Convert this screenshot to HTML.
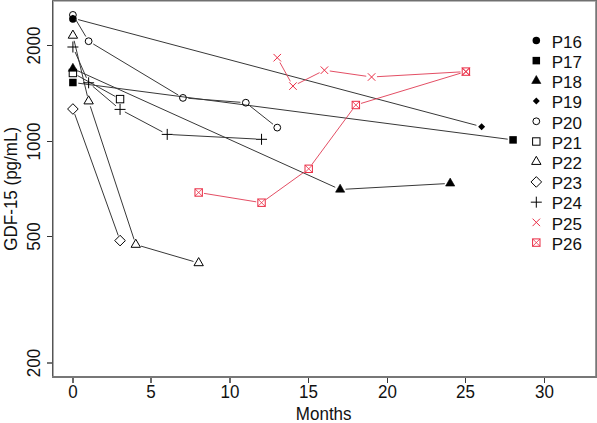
<!DOCTYPE html>
<html><head><meta charset="utf-8"><style>
html,body{margin:0;padding:0;background:#fff;}
body{width:597px;height:423px;position:relative;overflow:hidden;font-family:"Liberation Sans",sans-serif;color:#111;}
svg{position:absolute;left:0;top:0;font-family:"Liberation Sans",sans-serif;}
</style></head><body>
<svg width="597" height="423" viewBox="0 0 597 423">
<rect x="52" y="0" width="1" height="378" fill="#555"/>
<rect x="53" y="1" width="1" height="376" fill="#aaa"/>
<rect x="595" y="1" width="1" height="376" fill="#999"/>
<rect x="596" y="0" width="1" height="378" fill="#777"/>
<rect x="52" y="0" width="545" height="1" fill="#707070"/>
<rect x="54" y="1" width="541" height="1" fill="#b8b8b8"/>
<rect x="52" y="376" width="545" height="2" fill="#777"/>
<rect x="72" y="378" width="2" height="5" fill="#6a6a6a"/>
<rect x="150" y="378" width="2" height="5" fill="#6a6a6a"/>
<rect x="229" y="378" width="2" height="5" fill="#6a6a6a"/>
<rect x="308" y="378" width="1" height="5" fill="#383838"/>
<rect x="387" y="378" width="1" height="5" fill="#383838"/>
<rect x="465" y="378" width="1" height="5" fill="#383838"/>
<rect x="544" y="378" width="1" height="5" fill="#383838"/>
<rect x="47" y="45" width="5" height="1" fill="#333"/>
<rect x="47" y="141" width="5" height="1" fill="#333"/>
<rect x="47" y="236" width="5" height="1" fill="#333"/>
<rect x="47" y="362" width="5" height="2" fill="#777"/>
<circle cx="72.9" cy="19" r="3.75" fill="#000"/>
<path d="M78.25 83.2L507.71 139.2" stroke="#383838" stroke-width="1.0" fill="none"/>
<rect x="69.15" y="78.75" width="7.5" height="7.5" fill="#000"/>
<rect x="509.31" y="136.15" width="7.5" height="7.5" fill="#000"/>
<path d="M77.82 70.83L335.22 187.27M345.53 189.2L444.79 183.7" stroke="#383838" stroke-width="1.0" fill="none"/>
<polygon points="72.9,63.3 77.49,71.25 68.31,71.25" fill="#000" stroke="#000" stroke-width="0.6" stroke-linejoin="miter"/>
<polygon points="340.14,184.2 344.73,192.15 335.55,192.15" fill="#000" stroke="#000" stroke-width="0.6" stroke-linejoin="miter"/>
<polygon points="450.18,178.1 454.77,186.05 445.59,186.05" fill="#000" stroke="#000" stroke-width="0.6" stroke-linejoin="miter"/>
<path d="M78.12 19.59L476.4 125.31" stroke="#383838" stroke-width="1.0" fill="none"/>
<polygon points="72.9,14.7 76.4,18.2 72.9,21.7 69.4,18.2" fill="#000"/>
<polygon points="481.62,123.2 485.12,126.7 481.62,130.2 478.12,126.7" fill="#000"/>
<path d="M75.67 19.54L85.85 36.56M93.25 43.98L178.31 95.12M188.32 98.31L240.44 102.29M250.05 106.05L273.03 124.25" stroke="#383838" stroke-width="1.0" fill="none"/>
<circle cx="72.9" cy="14.9" r="3.4" fill="none" stroke="#000" stroke-width="1.0"/>
<circle cx="88.62" cy="41.2" r="3.4" fill="none" stroke="#000" stroke-width="1.0"/>
<circle cx="182.94" cy="97.9" r="3.4" fill="none" stroke="#000" stroke-width="1.0"/>
<circle cx="245.82" cy="102.7" r="3.4" fill="none" stroke="#000" stroke-width="1.0"/>
<circle cx="277.26" cy="127.6" r="3.4" fill="none" stroke="#000" stroke-width="1.0"/>
<path d="M77.62 75.61L115.34 96.49" stroke="#383838" stroke-width="1.0" fill="none"/>
<rect x="69.2" y="69.3" width="7.4" height="7.4" fill="none" stroke="#000" stroke-width="1.0"/>
<rect x="116.36" y="95.4" width="7.4" height="7.4" fill="none" stroke="#000" stroke-width="1.0"/>
<path d="M74.16 40.75L87.36 95.95M90.31 106.33L134.09 239.47M140.96 246.12L193.48 261.48" stroke="#383838" stroke-width="1.0" fill="none"/>
<polygon points="72.9,30.1 77.58,38.2 68.22,38.2" fill="none" stroke="#000" stroke-width="1.0" stroke-linejoin="miter"/>
<polygon points="88.62,95.8 93.3,103.9 83.94,103.9" fill="none" stroke="#000" stroke-width="1.0" stroke-linejoin="miter"/>
<polygon points="135.78,239.2 140.46,247.3 131.1,247.3" fill="none" stroke="#000" stroke-width="1.0" stroke-linejoin="miter"/>
<polygon points="198.66,257.6 203.34,265.7 193.98,265.7" fill="none" stroke="#000" stroke-width="1.0" stroke-linejoin="miter"/>
<path d="M74.72 114.08L118.24 235.52" stroke="#383838" stroke-width="1.0" fill="none"/>
<polygon points="72.9,103.7 78.2,109 72.9,114.3 67.6,109" fill="none" stroke="#000" stroke-width="1.0"/>
<polygon points="120.06,235.3 125.36,240.6 120.06,245.9 114.76,240.6" fill="none" stroke="#000" stroke-width="1.0"/>
<path d="M75.07 51.94L86.45 77.86M92.74 86.29L115.94 105.91M124.83 111.93L162.45 131.87M172.61 134.68L256.15 139.02" stroke="#383838" stroke-width="1.0" fill="none"/>
<path d="M67.4 47H78.4M72.9 41.5V52.5" stroke="#000" stroke-width="1.0"/>
<path d="M83.12 82.8H94.12M88.62 77.3V88.3" stroke="#000" stroke-width="1.0"/>
<path d="M114.56 109.4H125.56M120.06 103.9V114.9" stroke="#000" stroke-width="1.0"/>
<path d="M161.72 134.4H172.72M167.22 128.9V139.9" stroke="#000" stroke-width="1.0"/>
<path d="M256.04 139.3H267.04M261.54 133.8V144.8" stroke="#000" stroke-width="1.0"/>
<path d="M279.88 62.42L290.36 81.38M297.8 83.66L319.6 72.64M329.76 70.97L366.24 76.23M376.97 76.69L460.51 71.91" stroke="#e03a52" stroke-width="0.9" fill="none"/>
<path d="M273.51 53.95L281.01 61.45M273.51 61.45L281.01 53.95" stroke="#ea2c44" stroke-width="1"/>
<path d="M289.23 82.35L296.73 89.85M289.23 89.85L296.73 82.35" stroke="#ea2c44" stroke-width="1"/>
<path d="M320.67 66.45L328.17 73.95M320.67 73.95L328.17 66.45" stroke="#ea2c44" stroke-width="1"/>
<path d="M367.83 73.25L375.33 80.75M367.83 80.75L375.33 73.25" stroke="#ea2c44" stroke-width="1"/>
<path d="M462.15 67.85L469.65 75.35M462.15 75.35L469.65 67.85" stroke="#ea2c44" stroke-width="1"/>
<path d="M203.99 193.36L256.21 201.84M265.92 199.55L304.32 171.95M311.91 164.46L352.65 109.34M361.03 103.43L460.73 73.17" stroke="#e03a52" stroke-width="0.9" fill="none"/>
<rect x="194.96" y="188.8" width="7.4" height="7.4" fill="none" stroke="#ea2c44" stroke-width="1.0"/><path d="M194.96 188.8L202.36 196.2M194.96 196.2L202.36 188.8" stroke="#ea2c44" stroke-width="0.8"/>
<rect x="257.84" y="199" width="7.4" height="7.4" fill="none" stroke="#ea2c44" stroke-width="1.0"/><path d="M257.84 199L265.24 206.4M257.84 206.4L265.24 199" stroke="#ea2c44" stroke-width="0.8"/>
<rect x="305" y="165.1" width="7.4" height="7.4" fill="none" stroke="#ea2c44" stroke-width="1.0"/><path d="M305 165.1L312.4 172.5M305 172.5L312.4 165.1" stroke="#ea2c44" stroke-width="0.8"/>
<rect x="352.16" y="101.3" width="7.4" height="7.4" fill="none" stroke="#ea2c44" stroke-width="1.0"/><path d="M352.16 101.3L359.56 108.7M352.16 108.7L359.56 101.3" stroke="#ea2c44" stroke-width="0.8"/>
<rect x="462.2" y="67.9" width="7.4" height="7.4" fill="none" stroke="#ea2c44" stroke-width="1.0"/><path d="M462.2 67.9L469.6 75.3M462.2 75.3L469.6 67.9" stroke="#ea2c44" stroke-width="0.8"/>
<circle cx="536.3" cy="40.4" r="3.75" fill="#000"/>
<rect x="532.55" y="56.87" width="7.5" height="7.5" fill="#000"/>
<polygon points="536.3,75.54 540.89,83.49 531.71,83.49" fill="#000" stroke="#000" stroke-width="0.6" stroke-linejoin="miter"/>
<polygon points="536.3,97.56 539.8,101.06 536.3,104.56 532.8,101.06" fill="#000"/>
<circle cx="536.3" cy="121.28" r="3.4" fill="none" stroke="#000" stroke-width="1.0"/>
<rect x="532.6" y="137.8" width="7.4" height="7.4" fill="none" stroke="#000" stroke-width="1.0"/>
<polygon points="536.3,156.32 540.98,164.42 531.62,164.42" fill="none" stroke="#000" stroke-width="1.0" stroke-linejoin="miter"/>
<polygon points="536.3,176.64 541.6,181.94 536.3,187.24 531,181.94" fill="none" stroke="#000" stroke-width="1.0"/>
<path d="M530.8 202.16H541.8M536.3 196.66V207.66" stroke="#000" stroke-width="1.0"/>
<path d="M532.55 218.63L540.05 226.13M532.55 226.13L540.05 218.63" stroke="#ea2c44" stroke-width="1"/>
<rect x="532.6" y="238.9" width="7.4" height="7.4" fill="none" stroke="#ea2c44" stroke-width="1.0"/><path d="M532.6 238.9L540 246.3M532.6 246.3L540 238.9" stroke="#ea2c44" stroke-width="0.8"/>
<g fill="#111"><text transform="translate(73,397.5) scale(1,1.07)" text-anchor="middle" font-size="17">0</text>
<text transform="translate(151,397.5) scale(1,1.07)" text-anchor="middle" font-size="17">5</text>
<text transform="translate(230,397.5) scale(1,1.07)" text-anchor="middle" font-size="17">10</text>
<text transform="translate(308.5,397.5) scale(1,1.07)" text-anchor="middle" font-size="17">15</text>
<text transform="translate(387.5,397.5) scale(1,1.07)" text-anchor="middle" font-size="17">20</text>
<text transform="translate(465.5,397.5) scale(1,1.07)" text-anchor="middle" font-size="17">25</text>
<text transform="translate(544.5,397.5) scale(1,1.07)" text-anchor="middle" font-size="17">30</text>
<text transform="translate(40.0,45.5) rotate(-90) scale(1,1.07)" text-anchor="middle" font-size="17">2000</text>
<text transform="translate(40.0,141.5) rotate(-90) scale(1,1.07)" text-anchor="middle" font-size="17">1000</text>
<text transform="translate(40.0,236.5) rotate(-90) scale(1,1.07)" text-anchor="middle" font-size="17">500</text>
<text transform="translate(40.0,363) rotate(-90) scale(1,1.07)" text-anchor="middle" font-size="17">200</text>
<text transform="translate(323.7,420.0) scale(1,1.07)" text-anchor="middle" font-size="17">Months</text>
<text transform="translate(17.3,188.8) rotate(-90) scale(1,1.07)" text-anchor="middle" font-size="17">GDF-15 (pg/mL)</text>
<text x="551.7" y="47.7" font-size="17">P16</text>
<text x="551.7" y="67.92" font-size="17">P17</text>
<text x="551.7" y="88.14" font-size="17">P18</text>
<text x="551.7" y="108.36" font-size="17">P19</text>
<text x="551.7" y="128.58" font-size="17">P20</text>
<text x="551.7" y="148.8" font-size="17">P21</text>
<text x="551.7" y="169.02" font-size="17">P22</text>
<text x="551.7" y="189.24" font-size="17">P23</text>
<text x="551.7" y="209.46" font-size="17">P24</text>
<text x="551.7" y="229.68" font-size="17">P25</text>
<text x="551.7" y="249.9" font-size="17">P26</text></g>
</svg>
</body></html>
